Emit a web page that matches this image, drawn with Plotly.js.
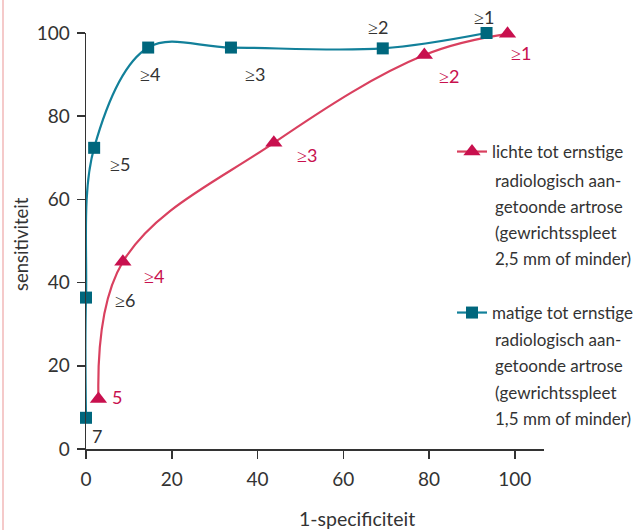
<!DOCTYPE html>
<html>
<head>
<meta charset="utf-8">
<script src="https://cdn.plot.ly/plotly-3.0.1.min.js"></script>
<style>html,body{margin:0;padding:0;background:#fff;}#chart{width:643px;height:530px;}</style>
</head>
<body>
<div id="chart"></div>
<script>
// Data
const redX = [2.9, 8.6, 43.8, 78.9, 98.3];
const redY = [12, 45, 73.6, 94.7, 99.8];
const redLabels = ["5", "≥4", "≥3", "≥2", "≥1"];
const blueX = [0, 0, 1.9, 14.5, 33.8, 69.2, 93.4];
const blueY = [7.5, 36.4, 72.4, 96.5, 96.5, 96.3, 100];
const blueLabels = ["7", "≥6", "≥5", "≥4", "≥3", "≥2", "≥1"];
const redName = ["lichte tot ernstige", "radiologisch aan-", "getoonde artrose", "(gewrichtsspleet", "2,5 mm of minder)"];
const blueName = ["matige tot ernstige", "radiologisch aan-", "getoonde artrose", "(gewrichtsspleet", "1,5 mm of minder)"];
const xTicks = [0, 20, 40, 60, 80, 100];
const yTicks = [0, 20, 40, 60, 80, 100];

const FONT = "Lato, 'Open Sans', sans-serif";
const GRAY = "#333333";
const RED = "#c8104e", REDLINE = "#d9405f";
const BLUE = "#00677d", BLUELINE = "#12809a";

// label offsets in pixels: [right, down]
const redOff = [[19, -2], [31, 14], [33, 12], [25, 21], [13, 19]];
const blueOff = [[11, 18], [39, 2], [26, 16], [2, 26], [24, 26], [-5, -21], [-3, -16]];

const fmt = t => t.replace("≥", "<span style=\"font-family:'Noto Sans'\">≥</span>");

const traces = [
  {x: redX, y: redY, type: "scatter", mode: "lines+markers", name: redName[0], legend: "legend",
   line: {color: REDLINE, width: 2.2, shape: "spline", smoothing: 1.1},
   marker: {symbol: "triangle-up", size: 15, color: RED}, cliponaxis: false, hoverinfo: "x+y"},
  {x: blueX, y: blueY, type: "scatter", mode: "lines+markers", name: blueName[0], legend: "legend2",
   line: {color: BLUELINE, width: 2.2, shape: "spline", smoothing: 1},
   marker: {symbol: "square", size: 12, color: BLUE}, cliponaxis: false, hoverinfo: "x+y"}
];

const ann = [];
redX.forEach((x, i) => ann.push({x: x, y: redY[i], xref: "x", yref: "y", text: fmt(redLabels[i]), showarrow: false,
  xshift: redOff[i][0], yshift: -redOff[i][1], font: {family: FONT, size: 18, color: RED}}));
blueX.forEach((x, i) => ann.push({x: x, y: blueY[i], xref: "x", yref: "y", text: fmt(blueLabels[i]), showarrow: false,
  xshift: blueOff[i][0], yshift: -blueOff[i][1], font: {family: FONT, size: 18, color: GRAY}}));

// layout geometry (pixels): paper spans x 86..643, y 33..449; x axis ends at 544
const PW = 643 - 86;
const px = v => (v - 86) / PW;
const py = v => (449 - v) / 416;

const redLineY = [180, 206, 232, 258];
const blueLineY = [339, 365, 392, 418];
redName.slice(1).forEach((t, i) => ann.push({xref: "paper", yref: "paper", x: px(493), y: py(redLineY[i]), xanchor: "left", yanchor: "middle",
  text: t, showarrow: false, font: {family: FONT, size: 17, color: GRAY}}));
blueName.slice(1).forEach((t, i) => ann.push({xref: "paper", yref: "paper", x: px(493), y: py(blueLineY[i]), xanchor: "left", yanchor: "middle",
  text: t, showarrow: false, font: {family: FONT, size: 17, color: GRAY}}));

// axis titles
ann.push({xref: "paper", yref: "paper", x: px(357), y: py(518), text: "1-specificiteit", showarrow: false,
  xanchor: "center", yanchor: "middle", font: {family: FONT, size: 19.5, color: GRAY}});
ann.push({xref: "paper", yref: "paper", x: px(21), y: py(244), text: "sensitiviteit", showarrow: false, textangle: -90,
  xanchor: "center", yanchor: "middle", font: {family: FONT, size: 18.5, color: GRAY}});

const layout = {
  width: 643, height: 530,
  margin: {l: 86, r: 0, t: 33, b: 81},
  paper_bgcolor: "#ffffff", plot_bgcolor: "rgba(0,0,0,0)",
  font: {family: FONT, color: GRAY},
  xaxis: {domain: [0, px(544)], range: [0, 106.8], tickvals: xTicks, ticktext: xTicks.map(String), showgrid: false, zeroline: false,
    showline: true, linecolor: GRAY, linewidth: 1.5, ticks: "outside", ticklen: 8, tickwidth: 1.5, tickcolor: GRAY,
    ticklabelstandoff: 5, tickfont: {family: FONT, size: 19, color: GRAY}, fixedrange: true, automargin: false},
  yaxis: {range: [0, 100], tickvals: yTicks, ticktext: yTicks.map(String), showgrid: false, zeroline: false,
    showline: true, linecolor: GRAY, linewidth: 1.5, ticks: "outside", ticklen: 8, tickwidth: 1.5, tickcolor: GRAY,
    ticklabelstandoff: 3, tickfont: {family: FONT, size: 19, color: GRAY}, fixedrange: true, automargin: false},
  legend: {x: px(452), y: py(152), xanchor: "left", yanchor: "middle", bgcolor: "rgba(0,0,0,0)",
    font: {family: FONT, size: 17, color: GRAY}},
  legend2: {x: px(452), y: py(313), xanchor: "left", yanchor: "middle", bgcolor: "rgba(0,0,0,0)",
    font: {family: FONT, size: 17, color: GRAY}},
  showlegend: true,
  annotations: ann,
  shapes: [{type: "line", xref: "paper", yref: "paper", x0: px(3), x1: px(3), y0: py(530), y1: py(0),
    line: {color: "#f2b9b9", width: 1.5}}]
};

Plotly.newPlot("chart", traces, layout, {displayModeBar: false, staticPlot: true});
</script>
</body>
</html>
